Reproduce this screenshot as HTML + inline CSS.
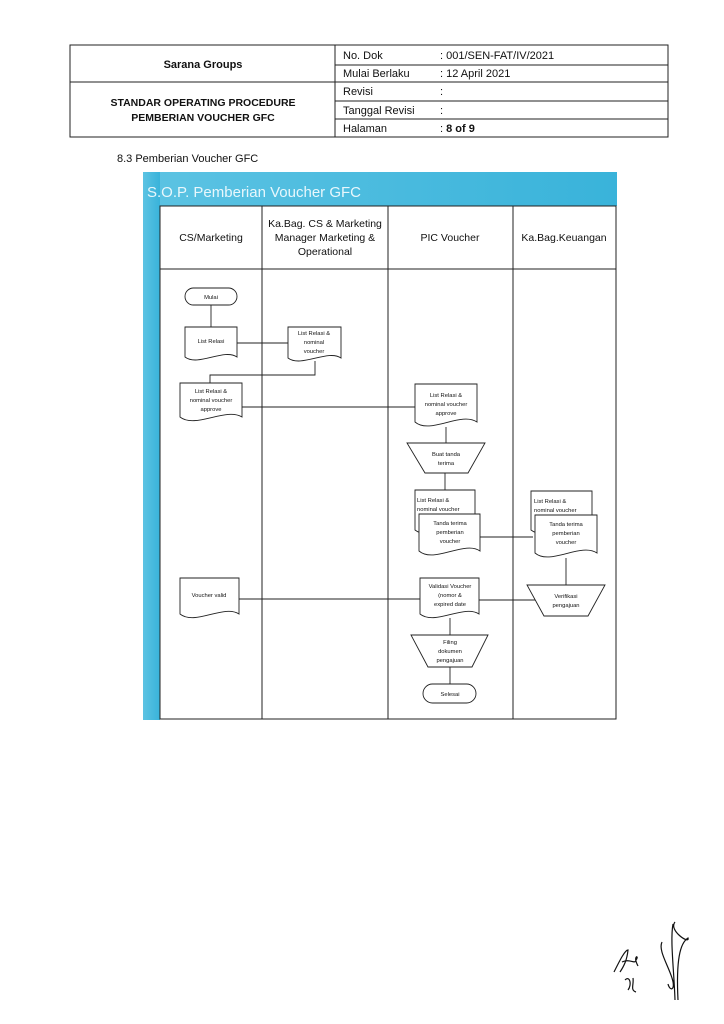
<!DOCTYPE html>
<html><head><meta charset="utf-8"><style>
html,body{margin:0;padding:0;background:#fff;}
svg{display:block;}
text{font-family:"Liberation Sans",sans-serif;fill:#111;}
</style></head><body>
<svg width="724" height="1024" viewBox="0 0 724 1024" xmlns="http://www.w3.org/2000/svg">
<defs>
<linearGradient id="bl" x1="0" y1="0" x2="1" y2="0">
<stop offset="0" stop-color="#5cc3e3"/><stop offset="1" stop-color="#39b3da"/>
</linearGradient>
</defs>
<rect width="724" height="1024" fill="#fff"/>
<g stroke="#222" stroke-width="1" fill="none">
<rect x="70" y="45" width="598" height="92"/>
<line x1="70" y1="82" x2="335" y2="82"/>
<line x1="335" y1="45" x2="335" y2="137"/>
<line x1="335" y1="65" x2="668" y2="65"/>
<line x1="335" y1="82" x2="668" y2="82"/>
<line x1="335" y1="101" x2="668" y2="101"/>
<line x1="335" y1="119" x2="668" y2="119"/>
</g>
<g font-size="11">
<text x="203" y="68" text-anchor="middle" font-weight="bold">Sarana Groups</text>
<text x="203" y="106" text-anchor="middle" font-weight="bold" font-size="10.5">STANDAR OPERATING PROCEDURE</text>
<text x="203" y="121" text-anchor="middle" font-weight="bold" font-size="10.5">PEMBERIAN VOUCHER GFC</text>
<text x="343" y="59">No. Dok</text>
<text x="343" y="77">Mulai Berlaku</text>
<text x="343" y="95">Revisi</text>
<text x="343" y="114">Tanggal Revisi</text>
<text x="343" y="132">Halaman</text>
<text x="440" y="59">: 001/SEN-FAT/IV/2021</text>
<text x="440" y="77">: 12 April 2021</text>
<text x="440" y="95">:</text>
<text x="440" y="114">:</text>
<text x="440" y="132">: <tspan font-weight="bold">8 of 9</tspan></text>
</g>
<text x="117" y="162" font-size="11">8.3 Pemberian Voucher GFC</text>
<rect x="143" y="172" width="474" height="34" fill="url(#bl)"/>
<rect x="143" y="172" width="17" height="548" fill="url(#bl)"/>
<text x="147" y="197" font-size="15" style="fill:#e8f7fc">S.O.P. Pemberian Voucher GFC</text>
<g stroke="#222" stroke-width="1" fill="none">
<rect x="160" y="206" width="456" height="513" fill="#fff"/>
<line x1="160" y1="269" x2="616" y2="269"/>
<line x1="262" y1="206" x2="262" y2="719"/>
<line x1="388" y1="206" x2="388" y2="719"/>
<line x1="513" y1="206" x2="513" y2="719"/>
</g>
<g font-size="10.5" text-anchor="middle">
<text x="211" y="241">CS/Marketing</text>
<text x="325" y="227">Ka.Bag. CS &amp; Marketing</text>
<text x="325" y="241">Manager Marketing &amp;</text>
<text x="325" y="255">Operational</text>
<text x="450" y="241">PIC Voucher</text>
<text x="564" y="241">Ka.Bag.Keuangan</text>
</g>
<g stroke="#222" stroke-width="0.9" fill="none">
<line x1="211" y1="305" x2="211" y2="327"/>
<line x1="237" y1="343" x2="288" y2="343"/>
<polyline points="315,361 315,375 210,375 210,383"/>
<line x1="242" y1="407" x2="415" y2="407"/>
<line x1="446" y1="427" x2="446" y2="443"/>
<line x1="445" y1="473" x2="445" y2="490"/>
<line x1="480" y1="537" x2="533" y2="537"/>
<line x1="566" y1="558" x2="566" y2="585"/>
<line x1="239" y1="599" x2="420" y2="599"/>
<line x1="479" y1="600" x2="535" y2="600"/>
<line x1="450" y1="618" x2="450" y2="635"/>
<line x1="450" y1="667" x2="450" y2="684"/>
</g>
<g stroke="#222" stroke-width="0.9" fill="#fff">
<rect x="185" y="288" width="52" height="17" rx="8.5"/>
<path d="M185,327 H237 V357 C224,348 198,367 185,357 Z"/>
<path d="M288,327 H341 V358 C328,349 301,368 288,358 Z"/>
<path d="M180,383 H242 V417 C226,407 195,429 180,417 Z"/>
<path d="M415,384 H477 V422 C461,411 430,435 415,422 Z"/>
<path d="M407,443 H485 L468,473 H425 Z"/>
<path d="M415,490 H475 V530 C460,520 430,542 415,530 Z"/>
<path d="M419,514 H480 V551 C465,540 434,564 419,551 Z"/>
<path d="M531,491 H592 V530 C577,520 546,542 531,530 Z"/>
<path d="M535,515 H597 V553 C581,542 550,566 535,553 Z"/>
<path d="M527,585 H605 L588,616 H544 Z"/>
<path d="M180,578 H239 V614 C224,604 195,626 180,614 Z"/>
<path d="M420,578 H479 V614 C464,604 435,626 420,614 Z"/>
<path d="M411,635 H488 L472,667 H428 Z"/>
<rect x="423" y="684" width="53" height="19" rx="9.5"/>
</g>
<g font-size="5.8" text-anchor="middle">
<text x="211" y="299">Mulai</text>
<text x="211" y="343">List Relasi</text>
<text x="314" y="335">List Relasi &amp;</text>
<text x="314" y="344">nominal</text>
<text x="314" y="353">voucher</text>
<text x="211" y="393">List Relasi &amp;</text>
<text x="211" y="402">nominal voucher</text>
<text x="211" y="411">approve</text>
<text x="446" y="397">List Relasi &amp;</text>
<text x="446" y="406">nominal voucher</text>
<text x="446" y="415">approve</text>
<text x="446" y="456">Buat tanda</text>
<text x="446" y="465">terima</text>
<text x="417" y="502" text-anchor="start">List Relasi &amp;</text>
<text x="417" y="511" text-anchor="start">nominal voucher</text>
<text x="450" y="525">Tanda terima</text>
<text x="450" y="534">pemberian</text>
<text x="450" y="543">voucher</text>
<text x="534" y="503" text-anchor="start">List Relasi &amp;</text>
<text x="534" y="512" text-anchor="start">nominal voucher</text>
<text x="566" y="526">Tanda terima</text>
<text x="566" y="535">pemberian</text>
<text x="566" y="544">voucher</text>
<text x="566" y="598">Verifikasi</text>
<text x="566" y="607">pengajuan</text>
<text x="209" y="597">Voucher valid</text>
<text x="450" y="588">Validasi Voucher</text>
<text x="450" y="597">(nomor &amp;</text>
<text x="450" y="606">expired date</text>
<text x="450" y="644">Filing</text>
<text x="450" y="653">dokumen</text>
<text x="450" y="662">pengajuan</text>
<text x="450" y="696">Selesai</text>
</g>
<g stroke="#111" stroke-width="1.2" fill="none">
<path d="M614,972 C620,960 625,950 628,950 C627,960 624,966 620,972 M622,962 C630,958 635,965 636,960 C640,955 632,955 638,966"/>
<path d="M625,980 C630,975 632,985 628,990 M633,978 C634,985 630,990 636,992"/>
<path d="M662,942 C658,950 668,965 672,978 C676,990 670,992 668,984 M673,924 C670,940 674,970 675,1000 M675,922 C668,930 690,945 688,938 C680,943 676,960 678,1000"/>
</g>
</svg>
</body></html>
